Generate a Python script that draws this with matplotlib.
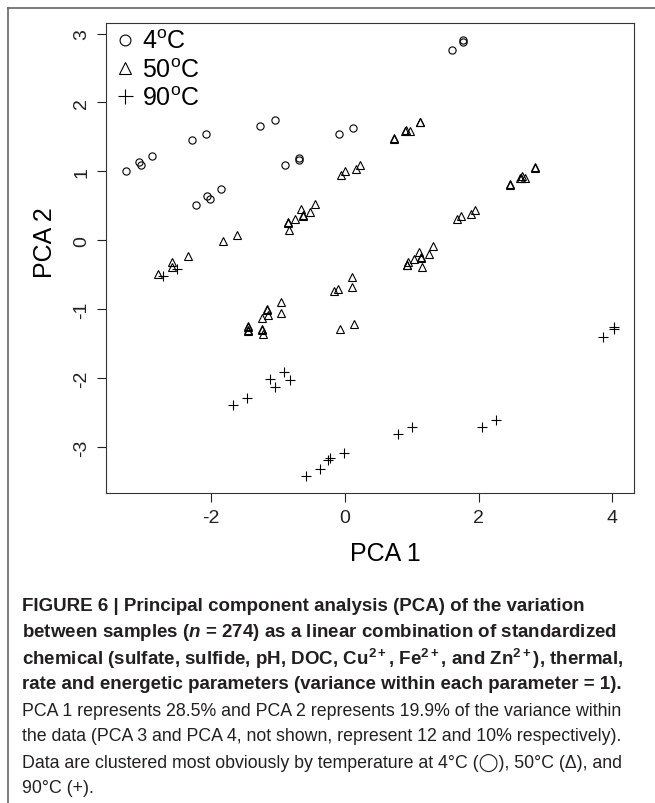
import matplotlib
matplotlib.use("Agg")
import matplotlib.pyplot as plt
from matplotlib.lines import Line2D
from matplotlib import font_manager as fm

# PCA scores
circ_x = [-3.28, -3.08, -3.05, -2.88, -2.28, -2.07, -1.27, -1.05, -2.22, -2.06,
          -2.01, -1.85, -0.90, -0.69, -0.69, -0.09, 0.12, 1.60, 1.76, 1.77]
circ_y = [1.00, 1.14, 1.09, 1.22, 1.46, 1.55, 1.66, 1.75, 0.51, 0.65,
          0.60, 0.74, 1.10, 1.19, 1.16, 1.55, 1.63, 2.76, 2.88, 2.90]

tri_x = [-2.79, -2.58, -2.58, -2.35, -1.82, -1.61,
         -0.85, -0.85, -0.83, -0.74, -0.66, -0.63, -0.62, -0.52, -0.44,
         -0.06, 0.00, 0.16, 0.22,
         0.74, 0.74, 0.90, 0.91, 0.97, 1.12, 1.12,
         0.93, 0.93, 0.95, 1.04, 1.11, 1.14, 1.14, 1.15, 1.25, 1.32,
         1.68, 1.73, 1.88, 1.94,
         2.47, 2.47, 2.62, 2.63, 2.65, 2.69, 2.84, 2.84,
         -1.45, -1.45, -1.45, -1.45, -1.24, -1.24, -1.24, -1.22, -1.16, -1.16,
         -1.15, -0.95, -0.95,
         -0.17, -0.10, 0.10, 0.11, -0.08, 0.13]
tri_y = [-0.48, -0.31, -0.38, -0.22, -0.01, 0.08,
         0.26, 0.25, 0.15, 0.31, 0.45, 0.36, 0.37, 0.41, 0.53,
         0.95, 1.01, 1.04, 1.09,
         1.47, 1.49, 1.59, 1.60, 1.58, 1.71, 1.72,
         -0.36, -0.35, -0.31, -0.27, -0.17, -0.25, -0.24, -0.39, -0.19, -0.08,
         0.31, 0.35, 0.39, 0.44,
         0.80, 0.82, 0.90, 0.91, 0.94, 0.91, 1.05, 1.06,
         -1.24, -1.25, -1.30, -1.31, -1.12, -1.29, -1.30, -1.35, -1.00, -1.01,
         -1.08, -0.89, -1.05,
         -0.73, -0.71, -0.53, -0.67, -1.28, -1.21]

plus_x = [-2.72, -2.51, -1.68, -1.47, -1.12, -1.04, -0.91, -0.82, -0.58, -0.37,
          -0.26, -0.22, -0.02, 0.79, 1.00, 2.05, 2.26, 3.86, 4.03, 4.02]
plus_y = [-0.52, -0.42, -2.38, -2.29, -2.01, -2.13, -1.91, -2.03, -3.41, -3.32,
          -3.18, -3.16, -3.08, -2.80, -2.71, -2.71, -2.61, -1.40, -1.28, -1.26]

labels = ["4$^{\\mathrm{o}}$C", "50$^{\\mathrm{o}}$C", "90$^{\\mathrm{o}}$C"]
xticks = [-2, 0, 2, 4]
yticks = [-3, -2, -1, 0, 1, 2, 3]

caption_bold = [
    "FIGURE 6 | Principal component analysis (PCA) of the variation",
    "between samples ($\\mathit{n}$ = 274) as a linear combination of standardized",
    "chemical (sulfate, sulfide, pH, DOC, Cu$^{\\mathbf{2+}}$, Fe$^{\\mathbf{2+}}$, and Zn$^{\\mathbf{2+}}$), thermal,",
    "rate and energetic parameters (variance within each parameter = 1).",
]
caption_reg = [
    "PCA 1 represents 28.5% and PCA 2 represents 19.9% of the variance within",
    "the data (PCA 3 and PCA 4, not shown, represent 12 and 10% respectively).",
    "Data are clustered most obviously by temperature at 4°C (◯), 50°C (Δ), and",
    "90°C (+).",
]

names = {f.name for f in fm.fontManager.ttflist}
cap = 'Liberation Sans Narrow' if 'Liberation Sans Narrow' in names else 'Liberation Sans'

plt.rcParams['font.family'] = ['Liberation Sans', 'DejaVu Sans']
plt.rcParams['axes.unicode_minus'] = False
plt.rcParams['mathtext.fontset'] = 'custom'
plt.rcParams['mathtext.rm'] = 'Liberation Sans'
plt.rcParams['mathtext.bf'] = cap + ':bold'
plt.rcParams['mathtext.it'] = cap + ':italic:bold'

W, H = 655, 804
fig = plt.figure(figsize=(W / 100, H / 100), dpi=100)
ax = fig.add_axes([106 / W, 1 - 494 / H, 528 / W, 470 / H])

mk = dict(linestyle='none', color='black', markerfacecolor='none')
h1, = ax.plot(circ_x, circ_y, marker='o', markersize=5.2, markeredgewidth=0.8, **mk)
h2, = ax.plot(tri_x, tri_y, marker='^', markersize=6.2, markeredgewidth=0.8, **mk)
h3, = ax.plot(plus_x, plus_y, marker='+', markersize=7.2, markeredgewidth=0.8, **mk)
ax.margins(0.04)

ax.set_xticks(xticks)
ax.set_yticks(yticks)
ax.tick_params(length=6.5, width=0.8, labelsize=14, pad=5, colors='#222222')
ax.tick_params(axis='y', labelrotation=90)
for lab in ax.get_yticklabels():
    lab.set_va('center')
for s in ax.spines.values():
    s.set_linewidth(0.8)
    s.set_color('#333333')

ax.set_xlabel("PCA 1", fontsize=18)
ax.set_ylabel("PCA 2", fontsize=18)
ax.xaxis.set_label_coords(0.53, -0.128)
ax.yaxis.set_label_coords(-0.116, 0.534)
ax.xaxis.label.set_va('center')
ax.yaxis.label.set_va('center')

ax.legend([h1, h2, h3], labels, loc='upper left', frameon=False, fontsize=18,
          markerscale=1.5, handlelength=1.0, handletextpad=0.2,
          borderaxespad=0.0, borderpad=0.25, labelspacing=0.17)

# outer frame of the figure panel
fig.add_artist(Line2D([8 / W, 1], [1 - 9 / H, 1 - 9 / H], color='#666666', lw=1.2))
fig.add_artist(Line2D([8 / W, 8 / W], [0, 1 - 9 / H], color='#666666', lw=1.2))

# caption, sized so the longest lines fill the column like the reference
y0, dy = 607, 26
texts = []
for i, line in enumerate(caption_bold + caption_reg):
    t = fig.text(22 / W, 1 - (y0 + i * dy) / H, line, fontsize=14,
                 family=[cap, 'DejaVu Sans'], weight='bold' if i < 4 else 'normal',
                 color='#231f20', va='center', ha='left')
    texts.append(t)

r = fig.canvas.get_renderer()
for idx, target, group in [(2, 603, texts[:4]), (5, 604, texts[4:])]:
    w = texts[idx].get_window_extent(r).width
    size = 14 * target / w
    for t in group:
        t.set_fontsize(size)

fig.savefig("out.png", dpi=100)
